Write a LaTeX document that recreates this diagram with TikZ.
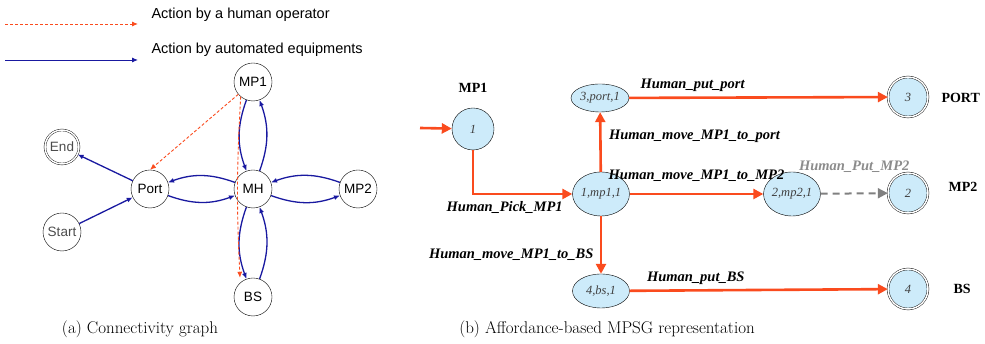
\documentclass[tikz,border=0pt]{standalone}
\usepackage{fontspec}
\newfontfamily\arialfont{Liberation Sans}
\newfontfamily\timesfont{Liberation Serif}
\usetikzlibrary{arrows.meta,shapes.geometric,positioning}
\definecolor{autoblue}{RGB}{25,25,160}
\definecolor{humanred}{RGB}{250,75,30}
\definecolor{statefill}{RGB}{205,235,250}
\tikzset{
  cnode/.style={draw, circle, minimum size=38pt, inner sep=0pt, font=\arialfont\fontsize{13.5}{13.5}\selectfont},
  endnode/.style={cnode, double, double distance=1.5pt, minimum size=34pt},
  autoedge/.style={autoblue, line width=1.3pt, -{Latex[length=6pt,width=5pt]}},
  humanedge/.style={humanred, line width=0.9pt, dashed, dash pattern=on 3pt off 2pt, -{Latex[length=6pt,width=5pt]}},
  state/.style={draw, ellipse, fill=statefill, inner sep=0pt, font=\timesfont\itshape\fontsize{12.5}{12.5}\selectfont, text=black!75},
  final/.style={state, circle, double, double distance=1.5pt, minimum size=40pt},
  move/.style={humanred, line width=2.6pt, -{Triangle[length=10pt,width=10pt]}},
  movelabel/.style={text=black, font=\timesfont\bfseries\itshape\fontsize{14.5}{14.5}\selectfont},
  placelabel/.style={font=\timesfont\bfseries\fontsize{14}{14}\selectfont}
}
\begin{document}
\begin{tikzpicture}[x=1pt,y=1pt]
\useasboundingbox (0,0) rectangle (985,344);

%%% (a) connectivity graph
\coordinate (h0) at (5,320);
\coordinate (h1) at (138,320);
\coordinate (a0) at (5,284);
\coordinate (a1) at (138,284);
\draw[humanedge] (h0) -- (h1);
\draw[autoedge, line width=0.9pt] (a0) -- (a1);
\node[anchor=west, font=\arialfont\fontsize{14.5}{14.5}\selectfont] (hlab) at (148,329) {Action by a human operator};
\node[anchor=west, font=\arialfont\fontsize{14.5}{14.5}\selectfont] (alab) at (148,294) {Action by automated equipments};

\node[cnode] (mp1) at (253,262) {MP1};
\node[cnode] (mh) at (253,155) {MH};
\node[cnode] (port) at (150,155) {Port};
\node[cnode] (mp2) at (358,155) {MP2};
\node[cnode] (bs) at (253,47) {BS};
\node[endnode, text=black!70] (end) at (62,197) {End};
\node[cnode, text=black!70] (start) at (62,112) {Start};

\draw[autoedge] (port) -- (end);
\draw[autoedge] (start) -- (port);
\draw[autoedge] (port) to[bend right=20] (mh);
\draw[autoedge] (mh) to[bend right=20] (port);
\draw[autoedge] (mh) to[bend right=20] (mp2);
\draw[autoedge] (mp2) to[bend right=20] (mh);
\draw[autoedge] (mp1) to[bend right=20] (mh);
\draw[autoedge] (mh) to[bend right=20] (mp1);
\draw[autoedge] (mh) to[bend right=20] (bs);
\draw[autoedge] (bs) to[bend right=20] (mh);
\draw[humanedge] (mp1.220) -- (port.north);
\draw[humanedge] (mp1.230) to[bend right=3] ([xshift=-13pt]bs.north);

\node[font=\fontsize{17}{17}\selectfont] (capa) at (140,15) {(a) Connectivity graph};

%%% (b) MPSG representation
\node[placelabel] (lmp1) at (473,256) {MP1};
\node[state, circle, minimum size=42pt] (s1) at (473,215) {1};
\node[state, minimum width=58pt, minimum height=28pt] (p3) at (600,246) {3,port,1};
\node[state, minimum width=54pt, minimum height=44pt] (m1) at (601,150) {1,mp1,1};
\node[state, minimum width=50pt, minimum height=44pt] (m2) at (792,150) {2,mp2,1};
\node[state, minimum width=57pt, minimum height=34pt] (b4) at (601,53) {4,bs,1};
\node[final] (f3) at (908,247) {3};
\node[final] (f2) at (908,151) {2};
\node[final] (f4) at (908,55) {4};
\node[placelabel, anchor=west] (lport) at (938,246) {PORT};
\node[placelabel, anchor=west] (lmp2) at (945,157) {MP2};
\node[placelabel, anchor=west] (lbs) at (950,55) {BS};

\coordinate (in) at (420,216);
\draw[move] (in) -- (s1);
\draw[move] (s1.south) |- node[movelabel, pos=1, anchor=north east, xshift=-5pt, yshift=-3pt] {Human\_Pick\_MP1} (m1.west);
\draw[move] (m1) -- node[movelabel, right=4pt, pos=0.6] {Human\_move\_MP1\_to\_port} (p3);
\draw[move] (m1) -- node[movelabel, pos=0.5, above=8pt] {Human\_move\_MP1\_to\_MP2} (m2);
\draw[move] (m1) -- node[movelabel, left=3pt, pos=0.66] {Human\_move\_MP1\_to\_BS} (b4);
\draw[move] (p3) -- node[movelabel, pos=0.245, above=1pt] {Human\_put\_port} (f3);
\draw[move] (b4) -- node[movelabel, pos=0.256, above=1pt] {Human\_put\_BS} (f4);
\draw[black!50, line width=2pt, dashed, dash pattern=on 7pt off 5pt, -{Triangle[length=10pt,width=10pt]}] (m2) -- node[movelabel, text=black!45, pos=0.5, above=17pt] {Human\_Put\_MP2} (f2);

\node[font=\fontsize{17}{17}\selectfont] (capb) at (607,15) {(b) Affordance-based MPSG representation};
\end{tikzpicture}
\end{document}
